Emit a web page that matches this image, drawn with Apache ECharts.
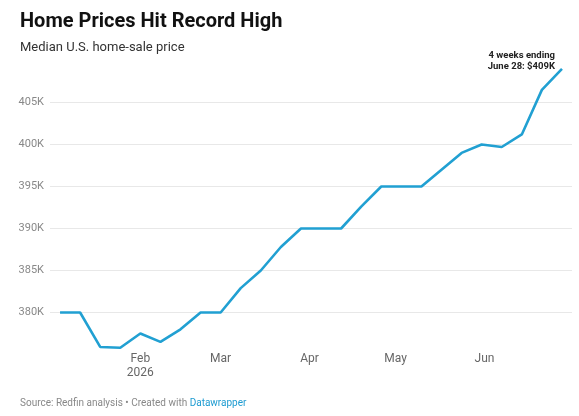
<!DOCTYPE html>
<html>
<head>
<meta charset="utf-8">
<script src="https://cdn.jsdelivr.net/npm/echarts@6/dist/echarts.min.js"></script>
<style>
html,body{margin:0;padding:0;background:#fff;}
#chart{width:579px;height:416px;}
</style>
</head>
<body>
<div id="chart"></div>
<script>
// Week-ending dates (4-week rolling windows)
const weekEnding = [
  '2026-01-04','2026-01-11','2026-01-18','2026-01-25',
  '2026-02-01','2026-02-08','2026-02-15','2026-02-22',
  '2026-03-01','2026-03-08','2026-03-15','2026-03-22','2026-03-29',
  '2026-04-05','2026-04-12','2026-04-19','2026-04-26',
  '2026-05-03','2026-05-10','2026-05-17','2026-05-24','2026-05-31',
  '2026-06-07','2026-06-14','2026-06-21','2026-06-28'
];
// Median sale price, thousands of dollars
const medianPriceK = [
  380.0, 380.0, 375.9, 375.8,
  377.5, 376.5, 378.0, 380.0,
  380.0, 382.9, 385.0, 387.8, 390.0,
  390.0, 390.0, 392.6, 395.0,
  395.0, 395.0, 397.0, 399.0, 400.0,
  399.7, 401.2, 406.5, 409.0
];
// X-axis tick positions and labels
const monthTickDates = ['2026-02-01','2026-03-01','2026-04-01','2026-05-01','2026-06-01'];
const monthTickLabels = ['Feb\n2026','Mar','Apr','May','Jun'];
// Y-axis tick values (thousands)
const yTicks = [380, 385, 390, 395, 400, 405];
const annotationText = '4 weeks ending\nJune 28: $409K';

const DAY = 86400000;
const toTs = s => { const [y,m,d] = s.split('-').map(Number); return Date.UTC(y, m-1, d); };
const seriesData = weekEnding.map((d,i) => [toTs(d), medianPriceK[i]]);
const tickTs = monthTickDates.map(toTs);

const chart = echarts.init(document.getElementById('chart'), null, {renderer:'canvas'});
chart.setOption({
  animation: false,
  backgroundColor: '#fff',
  textStyle: { fontFamily: 'Roboto' },
  title: {
    text: 'Home Prices Hit Record High',
    subtext: 'Median U.S. home-sale price',
    left: 15, top: 7,
    itemGap: 9,
    textStyle: { fontFamily: 'Roboto', fontSize: 20, fontWeight: 700, color: '#111' },
    subtextStyle: { fontFamily: 'Roboto', fontSize: 13, color: '#333' }
  },
  grid: { left: 50, right: 7, top: 60.5, bottom: 61.5, containLabel: false },
  xAxis: {
    type: 'value',
    min: toTs(weekEnding[0]) - 3.5*DAY,
    max: toTs(weekEnding[weekEnding.length-1]) + 3.5*DAY,
    axisLine: { show: false },
    axisTick: { show: false },
    splitLine: { show: false },
    axisLabel: {
      customValues: tickTs,
      margin: -2,
      color: '#666',
      fontSize: 12,
      lineHeight: 13.5,
      fontFamily: 'Roboto',
      formatter: v => { const i = tickTs.indexOf(v); return i >= 0 ? monthTickLabels[i] : ''; }
    }
  },
  yAxis: {
    type: 'value',
    min: 375, max: 410, interval: 5,
    axisLine: { show: false },
    axisTick: { show: false },
    splitLine: { show: true, showMinLine: false, showMaxLine: false, lineStyle: { color: '#e8e8e8', width: 1 } },
    axisLabel: {
      showMinLabel: false, showMaxLabel: false,
      color: '#888', fontSize: 11, fontFamily: 'Roboto', margin: 6,
      formatter: v => yTicks.indexOf(v) >= 0 ? v + 'K' : ''
    }
  },
  series: [{
    type: 'line',
    data: seriesData,
    showSymbol: false,
    symbol: 'none',
    lineStyle: { color: '#21a0d2', width: 2.6 },
    itemStyle: { color: '#21a0d2' }
  }],
  graphic: [{
    type: 'text',
    left: 20, top: 398,
    style: {
      text: '{g|Source: Redfin analysis • Created with }{b|Datawrapper}',
      rich: {
        g: { fontFamily: 'Roboto', fontSize: 10, fill: '#888' },
        b: { fontFamily: 'Roboto', fontSize: 10, fill: '#1d9bd1' }
      }
    }
  }]
});

// Annotation anchored to the last data point
const lastPt = chart.convertToPixel({ gridIndex: 0 }, seriesData[seriesData.length - 1]);
chart.setOption({
  graphic: [{}, {
    type: 'text',
    x: lastPt[0] - 7,
    y: lastPt[1] + 4,
    style: {
      text: annotationText,
      align: 'right',
      verticalAlign: 'bottom',
      fontFamily: 'Roboto', fontSize: 9.5, fontWeight: 700, fill: '#222', lineHeight: 11.6
    }
  }]
});
</script>
</body>
</html>
